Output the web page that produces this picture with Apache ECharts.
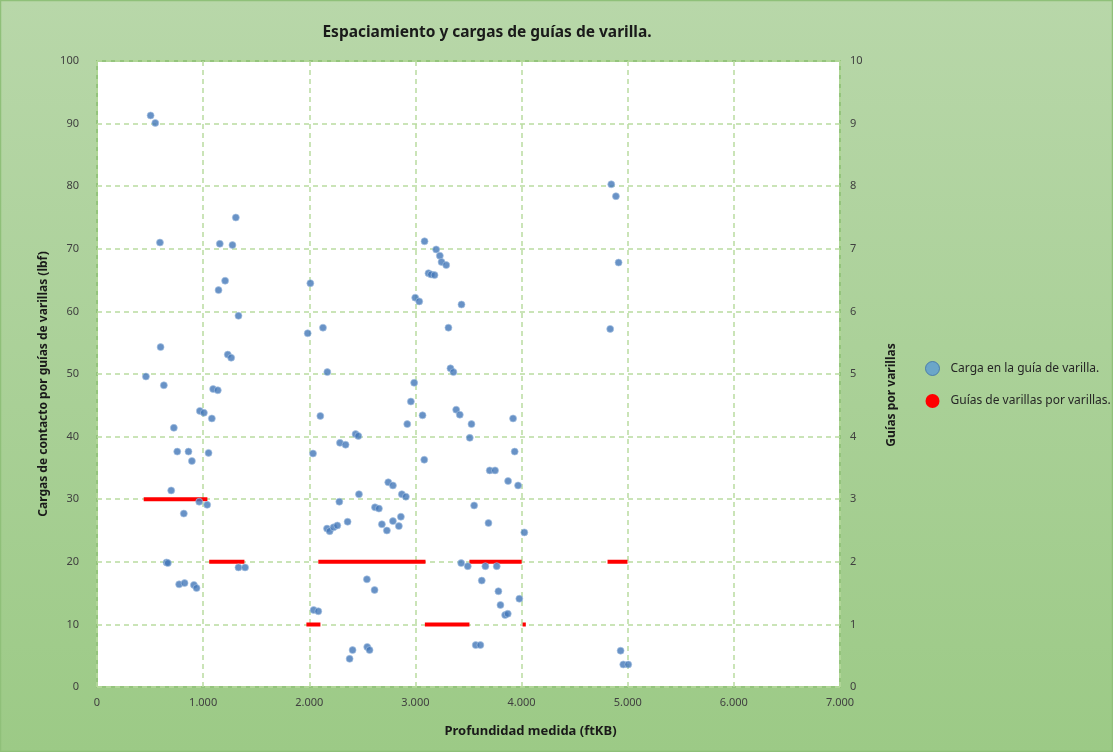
<!DOCTYPE html>
<html>
<head>
<meta charset="utf-8">
<script src="https://cdn.jsdelivr.net/npm/echarts@6/dist/echarts.min.js"></script>
<style>
html,body{margin:0;padding:0;background:#fff;}
#c{width:1113px;height:752px;}
</style>
</head>
<body>
<div id="c"></div>
<script>
// Carga en la guía de varilla: depth (ftKB) and contact load (lbf)
const depth = [461,505,549,593,599,630,655,668,699,724,756,774,818,825,862,894,913,938,963,969,1007,1038,1051,1082,1094,1138,1145,1157,1207,1232,1264,1276,1308,1333,1333,1395,
  1985,2010,2035,2041,2085,2104,2129,2167,2170,2192,2229,2264,2283,2289,2342,2361,2380,2408,2436,2462,2468,2543,2546,2568,2615,2619,2656,2684,2731,2744,2788,2788,2844,2863,2872,2910,2923,2957,2988,2998,3036,3067,3083,3086,3123,3148,3180,3195,3230,3246,3290,3311,3330,3358,3384,3418,3431,3434,3493,3512,3528,3553,3568,3612,3625,3659,3688,3700,3750,3766,3782,3801,3845,3870,3873,3920,3935,3967,3979,4026,
  4835,4845,4889,4914,4933,4958,5005];
const carga = [49.6,91.3,90.1,71.0,54.3,48.2,19.9,19.8,31.4,41.4,37.6,16.4,27.7,16.6,37.6,36.1,16.3,15.8,29.6,44.1,43.8,29.1,37.4,42.9,47.6,47.4,63.4,70.8,64.9,53.1,52.6,70.6,75.0,59.3,19.1,19.1,
  56.5,64.5,37.3,12.3,12.1,43.3,57.4,25.3,50.3,24.9,25.5,25.8,29.6,39.0,38.7,26.4,4.5,5.9,40.4,40.1,30.8,17.2,6.4,5.9,15.5,28.7,28.5,26.0,25.0,32.7,32.2,26.5,25.7,27.2,30.8,30.4,42.0,45.6,48.6,62.2,61.6,43.4,36.3,71.2,66.1,65.9,65.8,69.9,68.9,67.9,67.4,57.4,50.9,50.3,44.3,43.5,19.8,61.1,19.3,39.8,42.0,29.0,6.7,6.7,17.0,19.3,26.2,34.6,34.6,19.3,15.3,13.1,11.5,11.7,32.9,42.9,37.6,32.2,14.1,24.7,
  57.2,80.3,78.4,67.8,5.8,3.6,3.6];
// Guías de varillas por varillas: segments (start depth, end depth, guides per rod)
const guideStart = [440,1057,1973,2085,3089,3509,4010,4810];
const guideEnd   = [1040,1389,2105,3095,3509,4001,4040,4998];
const guideCount = [3,2,1,2,1,2,1,2];
// Tick labels
const xTicks = [0,1000,2000,3000,4000,5000,6000,7000];
const yLeftTicks = [0,10,20,30,40,50,60,70,80,90,100];
const yRightTicks = [0,1,2,3,4,5,6,7,8,9,10];

const cargaData = depth.map((d,i)=>[d,carga[i]]);
const guideData = [];
guideStart.forEach((s,i)=>{
  guideData.push([s,guideCount[i]]);
  guideData.push([guideEnd[i],guideCount[i]]);
  guideData.push([null,null]);
});

const FONT = "'Liberation Sans Narrow','Noto Sans',sans-serif";
const chart = echarts.init(document.getElementById('c'));
const gridLine = {show:true,lineStyle:{color:'#b9dba0',type:[5,4],width:1.5}};
chart.setOption({
  backgroundColor:{type:'linear',x:0,y:0,x2:0,y2:1,colorStops:[{offset:0,color:'#b8d7a9'},{offset:1,color:'#9cca86'}]},
  textStyle:{fontFamily:FONT},
  title:{text:'Espaciamiento y cargas de guías de varilla.',left:482,textAlign:'center',top:20,
    textStyle:{fontFamily:FONT,fontSize:15.5,fontWeight:'bold',color:'#1a1a1a'}},
  grid:{left:97,right:273,top:61,bottom:65,show:true,backgroundColor:'#ffffff',borderColor:'#94c47c',borderWidth:2},
  legend:{orient:'vertical',left:920,top:356,itemGap:18,itemWidth:14,itemHeight:14,
    textStyle:{fontFamily:FONT,fontSize:12,color:'#262626',padding:[0,0,0,6]},
    data:[
      {name:'Carga en la guía de varilla.',icon:'circle',itemStyle:{color:'#5b9bd5',borderColor:'#3d6fa8',borderWidth:1}},
      {name:'Guías de varillas por varillas.',icon:'circle',itemStyle:{color:'#ff0000'}}
    ]},
  xAxis:{type:'value',min:0,max:7000,interval:1000,
    name:'Profundidad medida (ftKB)',nameLocation:'middle',nameGap:38,
    nameTextStyle:{fontFamily:FONT,fontSize:13,fontWeight:'bold',color:'#1a1a1a',padding:[0,0,0,124]},
    axisLine:{show:false},axisTick:{show:false},splitLine:gridLine,
    axisLabel:{fontFamily:FONT,fontSize:11,color:'#404040',margin:10,
      formatter:v=>xTicks.includes(v)?(v===0?'0':(v/1000)+'.000'):''}},
  yAxis:[
    {type:'value',min:0,max:100,interval:10,position:'left',
      name:'Cargas de contacto por guías de varillas (lbf)',nameLocation:'middle',nameGap:42,
      nameTextStyle:{fontFamily:FONT,fontSize:12,fontWeight:'bold',color:'#1a1a1a',padding:[0,0,0,-20]},
      axisLine:{show:false},axisTick:{show:false},splitLine:gridLine,
      axisLabel:{fontFamily:FONT,fontSize:11,color:'#404040',margin:18,formatter:v=>yLeftTicks.includes(v)?String(v):''}},
    {type:'value',min:0,max:10,interval:1,position:'right',
      name:'Guías por varillas',nameLocation:'middle',nameGap:46,
      nameTextStyle:{fontFamily:FONT,fontSize:12,fontWeight:'bold',color:'#1a1a1a',padding:[0,0,0,-42]},
      axisLine:{show:false},axisTick:{show:false},splitLine:{show:false},
      axisLabel:{fontFamily:FONT,fontSize:11,color:'#404040',margin:10,formatter:v=>yRightTicks.includes(v)?String(v):''}}
  ],
  series:[
    {name:'Carga en la guía de varilla.',type:'scatter',yAxisIndex:0,data:cargaData,symbolSize:7,
      itemStyle:{color:'#4277b8',borderColor:'#a9c3e3',borderWidth:0.8},z:3},
    {name:'Guías de varillas por varillas.',type:'line',yAxisIndex:1,data:guideData,connectNulls:false,
      showSymbol:false,symbol:'none',lineStyle:{color:'#ff0000',width:4},itemStyle:{color:'#ff0000'},z:2}
  ],
  graphic:[{type:'rect',shape:{x:0.5,y:0.5,width:1112,height:751},style:{fill:'none',stroke:'#8fc079',lineWidth:1.5}}]
});
</script>
</body>
</html>
